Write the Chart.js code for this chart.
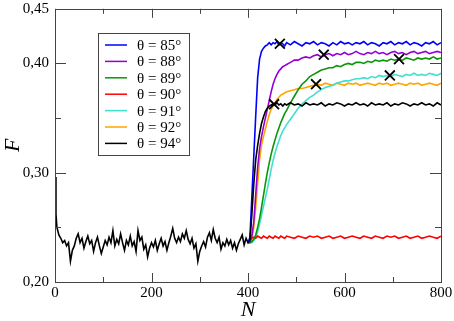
<!DOCTYPE html>
<html lang="en">
<head>
<meta charset="UTF-8">
<title>F versus N</title>
<style>
  html, body { margin: 0; padding: 0; background: #ffffff; }
  #chart { display: block; }
</style>
</head>
<body>
<canvas id="chart" width="454" height="321"></canvas>
<script src="https://cdn.jsdelivr.net/npm/chart.js"></script>
<script>
// legend labels, in the order of the legend box
const thetaLabels = ['θ = 85°', 'θ = 88°', 'θ = 89°', 'θ = 90°', 'θ = 91°', 'θ = 92°', 'θ = 94°'];

// N before the jump (only the black run is visible there)
const nEarly = [0, 2, 4, 8, 12, 16, 20, 24, 28, 32, 36, 40, 44, 48, 52, 56, 60, 64, 68, 72, 76, 80, 84, 88, 92, 96,
  100, 104, 108, 112, 116, 120, 124, 128, 132, 136, 140, 144, 148, 152, 156, 160, 164, 168, 172, 176, 180, 184, 188, 192, 196,
  200, 204, 208, 212, 216, 220, 224, 228, 232, 236, 240, 244, 248, 252, 256, 260, 264, 268, 272, 276, 280, 284, 288, 292, 296,
  300, 304, 308, 312, 316, 320, 324, 328, 332, 336, 340, 344, 348, 352, 356, 360, 364, 368, 372, 376, 380, 384, 388, 392, 396];
const fEarly = [0.296, 0.262, 0.250, 0.243, 0.240, 0.236, 0.238, 0.233, 0.236, 0.219, 0.229, 0.233, 0.240, 0.244, 0.236, 0.240, 0.231, 0.237, 0.242, 0.235, 0.238, 0.228, 0.236, 0.241, 0.233, 0.226,
  0.232, 0.238, 0.234, 0.241, 0.236, 0.247, 0.233, 0.239, 0.235, 0.244, 0.236, 0.229, 0.238, 0.234, 0.242, 0.233, 0.237, 0.228, 0.247, 0.238, 0.241, 0.230, 0.234, 0.223, 0.231,
  0.236, 0.232, 0.238, 0.229, 0.235, 0.240, 0.233, 0.237, 0.229, 0.236, 0.242, 0.249, 0.240, 0.236, 0.241, 0.237, 0.244, 0.240, 0.247, 0.239, 0.235, 0.240, 0.231, 0.235, 0.219,
  0.228, 0.233, 0.237, 0.232, 0.241, 0.245, 0.238, 0.248, 0.240, 0.236, 0.241, 0.230, 0.236, 0.233, 0.239, 0.234, 0.238, 0.231, 0.236, 0.229, 0.235, 0.239, 0.243, 0.234, 0.240];

// N from the jump on (all runs)
const nLate = [400, 404, 408, 412, 416, 420, 424, 428, 432, 436, 440, 444, 448, 452, 456, 460, 464, 468, 472, 476, 480,
  488, 496, 504, 512, 520, 528, 536, 544, 552, 560, 568, 576, 584, 592, 600, 608, 616, 624, 632,
  640, 648, 656, 664, 672, 680, 688, 696, 704, 712, 720, 728, 736, 744, 752, 760, 768, 776, 784, 792, 800];

const f85 = [0.236, 0.241, 0.278, 0.315, 0.352, 0.387, 0.404, 0.411, 0.414, 0.416, 0.417, 0.419, 0.417, 0.419, 0.418, 0.420, 0.417, 0.419, 0.418, 0.416, 0.419,
  0.417, 0.420, 0.418, 0.416, 0.419, 0.418, 0.420, 0.417, 0.419, 0.418, 0.416, 0.419, 0.417, 0.420, 0.418, 0.419, 0.417, 0.419, 0.418,
  0.420, 0.417, 0.419, 0.418, 0.416, 0.419, 0.418, 0.420, 0.417, 0.419, 0.418, 0.420, 0.417, 0.419, 0.418, 0.416, 0.419, 0.418, 0.420, 0.417, 0.419];
const f88 = [0.236, 0.237, 0.242, 0.255, 0.280, 0.305, 0.322, 0.333, 0.342, 0.350, 0.358, 0.366, 0.374, 0.381, 0.386, 0.390, 0.393, 0.395, 0.397, 0.398, 0.399,
  0.401, 0.403, 0.403, 0.405, 0.406, 0.405, 0.407, 0.408, 0.406, 0.408, 0.409, 0.407, 0.409, 0.408, 0.410, 0.408, 0.409, 0.411, 0.409,
  0.408, 0.410, 0.409, 0.411, 0.409, 0.410, 0.408, 0.410, 0.411, 0.409, 0.410, 0.408, 0.410, 0.411, 0.409, 0.410, 0.411, 0.409, 0.410, 0.411, 0.410];
const f89 = [0.236, 0.236, 0.237, 0.239, 0.243, 0.250, 0.258, 0.268, 0.279, 0.290, 0.300, 0.309, 0.317, 0.324, 0.330, 0.336, 0.341, 0.346, 0.350, 0.354, 0.357,
  0.364, 0.370, 0.376, 0.381, 0.384, 0.388, 0.390, 0.392, 0.394, 0.395, 0.396, 0.396, 0.398, 0.397, 0.399, 0.400, 0.399, 0.401, 0.401,
  0.400, 0.402, 0.401, 0.403, 0.402, 0.403, 0.402, 0.404, 0.403, 0.404, 0.403, 0.405, 0.404, 0.403, 0.405, 0.404, 0.405, 0.404, 0.406, 0.404, 0.405];
const f90 = [0.236, 0.238, 0.240, 0.241, 0.240, 0.242, 0.241, 0.240, 0.242, 0.241, 0.240, 0.242, 0.241, 0.240, 0.242, 0.241, 0.240, 0.242, 0.241, 0.240, 0.242,
  0.241, 0.240, 0.242, 0.241, 0.240, 0.242, 0.241, 0.242, 0.240, 0.241, 0.242, 0.240, 0.241, 0.242, 0.240, 0.241, 0.242, 0.241, 0.240,
  0.242, 0.241, 0.240, 0.242, 0.241, 0.240, 0.242, 0.241, 0.242, 0.240, 0.241, 0.242, 0.240, 0.241, 0.242, 0.240, 0.241, 0.242, 0.241, 0.240, 0.242];
const f91 = [0.236, 0.236, 0.236, 0.238, 0.241, 0.246, 0.253, 0.261, 0.269, 0.277, 0.285, 0.294, 0.303, 0.311, 0.318, 0.324, 0.329, 0.334, 0.338, 0.341, 0.344,
  0.349, 0.354, 0.359, 0.363, 0.366, 0.369, 0.371, 0.374, 0.376, 0.378, 0.379, 0.380, 0.382, 0.383, 0.384, 0.384, 0.385, 0.386, 0.386,
  0.387, 0.386, 0.388, 0.387, 0.389, 0.388, 0.389, 0.388, 0.390, 0.389, 0.388, 0.390, 0.389, 0.391, 0.389, 0.390, 0.389, 0.391, 0.390, 0.389, 0.391];
const f92 = [0.236, 0.236, 0.240, 0.250, 0.268, 0.290, 0.312, 0.325, 0.333, 0.340, 0.347, 0.353, 0.358, 0.361, 0.364, 0.367, 0.369, 0.371, 0.372, 0.373, 0.374,
  0.375, 0.376, 0.377, 0.377, 0.378, 0.379, 0.380, 0.381, 0.380, 0.382, 0.381, 0.380, 0.382, 0.381, 0.380, 0.382, 0.381, 0.382, 0.380,
  0.381, 0.382, 0.381, 0.380, 0.382, 0.381, 0.382, 0.380, 0.381, 0.382, 0.381, 0.380, 0.382, 0.381, 0.382, 0.380, 0.381, 0.382, 0.381, 0.380, 0.382];
const f94 = [0.236, 0.238, 0.262, 0.290, 0.312, 0.325, 0.336, 0.345, 0.351, 0.356, 0.359, 0.361, 0.362, 0.363, 0.362, 0.364, 0.362, 0.363, 0.361, 0.363, 0.362,
  0.364, 0.362, 0.363, 0.361, 0.364, 0.362, 0.363, 0.362, 0.364, 0.361, 0.363, 0.362, 0.364, 0.363, 0.361, 0.363, 0.362, 0.364, 0.362,
  0.363, 0.361, 0.364, 0.362, 0.363, 0.362, 0.364, 0.361, 0.363, 0.362, 0.364, 0.363, 0.361, 0.363, 0.362, 0.364, 0.362, 0.363, 0.361, 0.364, 0.362];

// the x marks on the curves
const crossN = [466, 557, 713, 694, 541, 454];
const crossF = [0.418, 0.408, 0.404, 0.389, 0.381, 0.3627];

// tick values
const xLabelTicks = [0, 200, 400, 600, 800];
const xMinorTicks = [100, 300, 500, 700];
const yLabelTicks = [0.20, 0.30, 0.40, 0.45];
const yMajorTicks = [0.20, 0.30, 0.40];
const yMinorTicks = [0.25, 0.35];

const colors = ['#0000ff', '#9400d3', '#0a960a', '#ff0000', '#40e0d0', '#ffa500', '#000000'];

function pts(ns, fs) {
  return ns.map((n, i) => ({ x: n, y: fs[i] }));
}

const lateSeries = [f85, f88, f89, f90, f91, f92];
const datasets = lateSeries.map((fs, i) => ({
  label: thetaLabels[i],
  data: pts(nLate, fs),
  borderColor: colors[i],
  backgroundColor: colors[i],
  borderWidth: 1.6,
  pointRadius: 0,
  tension: 0,
  order: 2
}));
datasets.push({
  label: thetaLabels[6],
  data: pts(nEarly.concat(nLate), fEarly.concat(f94)),
  borderColor: colors[6],
  backgroundColor: colors[6],
  borderWidth: 1.6,
  pointRadius: 0,
  tension: 0,
  order: 1
});
datasets.push({
  label: 'marks',
  type: 'scatter',
  data: pts(crossN, crossF),
  pointStyle: 'crossRot',
  pointRadius: 7,
  pointBorderWidth: 1.8,
  borderColor: '#000000',
  backgroundColor: '#000000',
  showLine: false,
  order: 0
});

const axisColor = '#444444';
const serif = "'Liberation Serif', 'DejaVu Serif', serif";

// box around the plot with inward ticks on all four sides
const framePlugin = {
  id: 'frame',
  afterDatasetsDraw(chart) {
    const { ctx, chartArea: a, scales: { x, y } } = chart;
    ctx.save();
    ctx.strokeStyle = axisColor;
    ctx.lineWidth = 1;
    ctx.strokeRect(Math.round(a.left) + 0.5, Math.round(a.top) + 0.5, Math.round(a.width), Math.round(a.height));
    ctx.beginPath();
    const xt = (v, len) => {
      const px = Math.round(x.getPixelForValue(v)) + 0.5;
      ctx.moveTo(px, a.bottom); ctx.lineTo(px, a.bottom - len);
      ctx.moveTo(px, a.top); ctx.lineTo(px, a.top + len);
    };
    const yt = (v, len) => {
      const py = Math.round(y.getPixelForValue(v)) + 0.5;
      ctx.moveTo(a.left, py); ctx.lineTo(a.left + len, py);
      ctx.moveTo(a.right, py); ctx.lineTo(a.right - len, py);
    };
    xLabelTicks.forEach(v => xt(v, 9));
    xMinorTicks.forEach(v => xt(v, 5));
    yMajorTicks.forEach(v => yt(v, 11));
    yMinorTicks.forEach(v => yt(v, 6));
    ctx.stroke();
    ctx.restore();
  }
};

// legend box inside the plot, top left
const legendPlugin = {
  id: 'boxLegend',
  afterDraw(chart) {
    const ctx = chart.ctx;
    const left = 98, top = 33, w = 91, h = 122;
    ctx.save();
    ctx.fillStyle = '#ffffff';
    ctx.fillRect(left, top, w, h);
    ctx.strokeStyle = axisColor;
    ctx.lineWidth = 1;
    ctx.strokeRect(left + 0.5, top + 0.5, w, h);
    ctx.font = '15px ' + serif;
    ctx.textBaseline = 'middle';
    ctx.fillStyle = '#000000';
    thetaLabels.forEach((t, i) => {
      const yy = 45 + i * 16.4;
      ctx.strokeStyle = colors[i];
      ctx.lineWidth = 1.5;
      ctx.beginPath();
      ctx.moveTo(105, yy);
      ctx.lineTo(127, yy);
      ctx.stroke();
      ctx.fillText(t, 137, yy + 1);
    });
    ctx.restore();
  }
};

new Chart(document.getElementById('chart'), {
  type: 'line',
  data: { datasets: datasets },
  options: {
    responsive: false,
    animation: false,
    devicePixelRatio: 1,
    layout: { padding: { left: 0, right: 13, top: 7, bottom: 0 } },
    plugins: {
      legend: { display: false },
      tooltip: { enabled: false }
    },
    scales: {
      x: {
        type: 'linear',
        min: 0,
        max: 800,
        afterBuildTicks(scale) { scale.ticks = xLabelTicks.map(v => ({ value: v })); },
        afterFit(scale) {
          scale.height = 39;
          scale.paddingLeft = 0;
          scale.paddingRight = 0;
        },
        grid: { display: false, drawTicks: false },
        border: { display: false },
        ticks: { color: '#000000', padding: 4, maxRotation: 0, font: { family: serif, size: 15, lineHeight: 1 } },
        title: { display: true, text: 'N', color: '#000000', padding: 0, font: { family: serif, size: 22, style: 'italic', lineHeight: 1 } }
      },
      y: {
        type: 'linear',
        min: 0.20,
        max: 0.45,
        afterBuildTicks(scale) { scale.ticks = yLabelTicks.map(v => ({ value: v })); },
        afterFit(scale) {
          scale.width = 55;
          scale.paddingTop = 0;
          scale.paddingBottom = 0;
        },
        grid: { display: false, drawTicks: false },
        border: { display: false },
        ticks: {
          color: '#000000',
          padding: 6,
          font: { family: serif, size: 15, lineHeight: 1 },
          callback: v => v.toFixed(2).replace('.', ',')
        },
        title: { display: true, text: 'F', color: '#000000', padding: { top: 2, bottom: 0 }, font: { family: serif, size: 22, style: 'italic', lineHeight: 1 } }
      }
    }
  },
  plugins: [framePlugin, legendPlugin]
});
</script>
</body>
</html>
